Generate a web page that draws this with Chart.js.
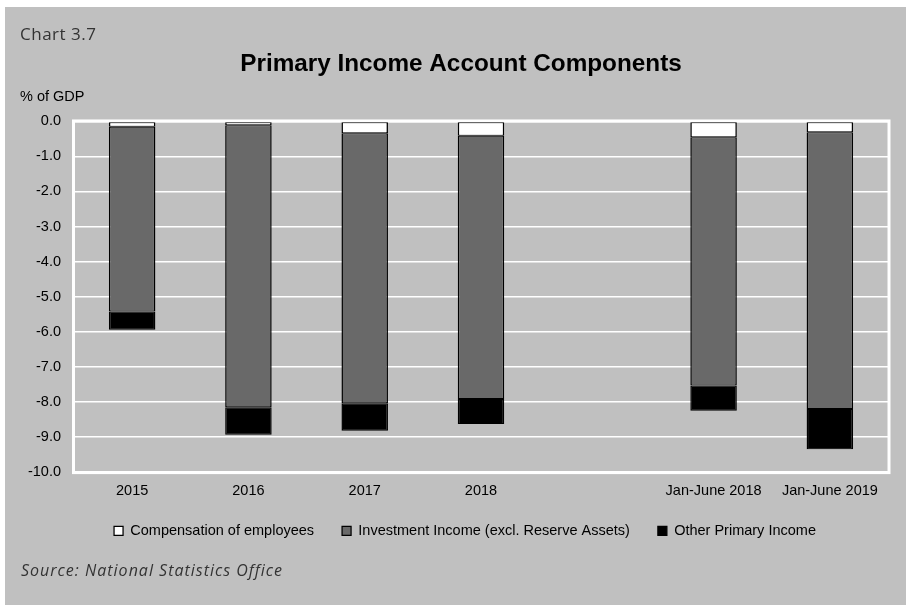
<!DOCTYPE html>
<html>
<head>
<meta charset="utf-8">
<script src="https://cdn.jsdelivr.net/npm/chart.js@4.4.1/dist/chart.umd.min.js"></script>
<style>
	html, body { margin: 0; padding: 0; background: #ffffff; }
	#primaryChart { display: block; }
</style>
</head>
<body>
<canvas id="primaryChart" width="906" height="605"></canvas>
<script>
/* 데이터 (% of GDP) */
const categories = ['2015', '2016', '2017', '2018', '', 'Jan-June 2018', 'Jan-June 2019']
const compensation = [-0.15, -0.11, -0.34, -0.41, null, -0.45, -0.31]
const investment = [-5.28, -8.05, -7.71, -7.52, null, -7.09, -7.90]
const otherIncome = [-0.52, -0.79, -0.78, -0.71, null, -0.72, -1.15]
const yTicks = [0, -1, -2, -3, -4, -5, -6, -7, -8, -9, -10]

const seriesNames = ['Compensation of employees', 'Investment Income (excl. Reserve Assets)', 'Other Primary Income']

const BG = '#c0c0c0'
const FONT = "'Liberation Sans', Arial, sans-serif"

/***************************** 배경 + 테두리 + 텍스트 plugin *****************************/
const decoPlugin = {
	id: 'deco',
	afterLayout(chart) {
		// 제목/범례를 원본처럼 약간 오른쪽으로
		if (chart.titleBlock) {
			chart.titleBlock.left += 17
			chart.titleBlock.right += 17
		}
		if (chart.legend) {
			chart.legend.left += 21
			chart.legend.right += 21
			chart.legend.top -= 15.5
			chart.legend.bottom -= 15.5
		}
	},
	beforeDraw(chart) {
		const ctx = chart.ctx
		ctx.save()
		ctx.fillStyle = '#ffffff'
		ctx.fillRect(0, 0, chart.width, chart.height)
		ctx.fillStyle = BG
		ctx.fillRect(5, 7, chart.width - 5, chart.height - 7)
		ctx.restore()
	},
	beforeDatasetsDraw(chart) {
		// 플롯 영역 흰색 테두리
		const a = chart.chartArea
		const ctx = chart.ctx
		ctx.save()
		ctx.strokeStyle = '#ffffff'
		ctx.lineWidth = 3
		ctx.strokeRect(a.left - 0.5, a.top - 0.5, a.right - a.left + 1.5, a.bottom - a.top + 1.5)
		ctx.restore()
	},
	afterDraw(chart) {
		const ctx = chart.ctx
		ctx.save()
		ctx.textBaseline = 'alphabetic'
		ctx.textAlign = 'left'

		ctx.fillStyle = '#333333'
		ctx.font = "17px 'Open Sans', sans-serif"
		ctx.letterSpacing = '0.5px'
		ctx.fillText('Chart 3.7', 20, 40)

		ctx.fillStyle = '#000000'
		ctx.letterSpacing = '0px'
		ctx.font = '14.5px ' + FONT
		ctx.fillText('% of GDP', 20, 101)

		ctx.fillStyle = '#333333'
		ctx.font = "italic 16px 'Open Sans', sans-serif"
		ctx.letterSpacing = '1px'
		ctx.fillText('Source: National Statistics Office', 21, 576)
		ctx.restore()
	}
}

var chartArea = document.getElementById('primaryChart').getContext('2d')

var primaryChart = new Chart(chartArea, {
	type: 'bar',
	data: {
		labels: categories,
		datasets: [{
			label: seriesNames[0],
			data: compensation,
			backgroundColor: '#ffffff',
			borderColor: '#000000',
			borderWidth: { left: 1.5, right: 1.5, top: 1, bottom: 1 },
			borderSkipped: false
		}, {
			label: seriesNames[1],
			data: investment,
			backgroundColor: '#696969',
			borderColor: '#000000',
			borderWidth: { left: 1.5, right: 1.5, top: 1, bottom: 1 },
			borderSkipped: false
		}, {
			label: seriesNames[2],
			data: otherIncome,
			backgroundColor: '#000000',
			borderColor: '#000000',
			borderWidth: { left: 1.5, right: 1.5, top: 1, bottom: 1 },
			borderSkipped: false
		}]
	},
	options: {
		responsive: false,
		animation: false,
		devicePixelRatio: 1,
		layout: {
			padding: { left: 0, right: 18, top: 0, bottom: 41.5 }
		},
		datasets: {
			bar: {
				categoryPercentage: 1.0,
				barPercentage: 0.40
			}
		},
		scales: {
			x: {
				stacked: true,
				grid: { display: false, drawTicks: false },
				border: { display: false },
				ticks: {
					color: '#000000',
					padding: 11,
					maxRotation: 0,
					autoSkip: false,
					font: { family: FONT, size: 14.5 }
				}
			},
			y: {
				stacked: true,
				min: -10,
				max: 0,
				afterFit(scale) { scale.width = 74 },
				afterBuildTicks(scale) {
					scale.ticks = yTicks.map(v => ({ value: v }))
				},
				grid: {
					color: '#ffffff',
					lineWidth: 1.5,
					drawTicks: false
				},
				border: { display: false },
				ticks: {
					color: '#000000',
					padding: 13,
					font: { family: FONT, size: 14.5 },
					callback: v => v.toFixed(1)
				}
			}
		},
		plugins: {
			title: {
				display: true,
				text: 'Primary Income Account Components',
				color: '#000000',
				font: { family: FONT, size: 24.3, weight: 'bold' },
				padding: { top: 50, bottom: 42.3 }
			},
			legend: {
				position: 'bottom',
				labels: {
					boxWidth: 9,
					boxHeight: 9,
					padding: 28,
					color: '#000000',
					font: { family: FONT, size: 14.5 }
				}
			},
			tooltip: { enabled: false }
		}
	},
	plugins: [decoPlugin]
})
</script>
</body>
</html>
